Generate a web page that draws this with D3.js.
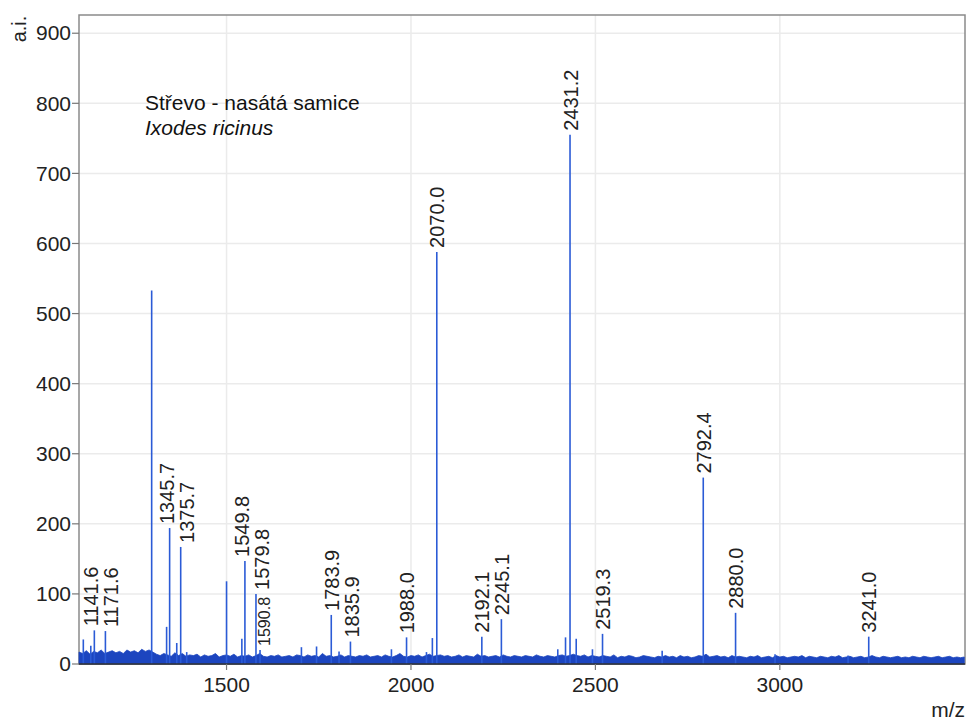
<!DOCTYPE html>
<html>
<head>
<meta charset="utf-8">
<script src="https://cdn.jsdelivr.net/npm/d3@7/dist/d3.min.js"></script>
<style>
  html, body { margin: 0; padding: 0; background: #ffffff; }
  svg { display: block; font-family: "Liberation Sans", Arial, sans-serif; }
</style>
</head>
<body>
<svg id="chart" width="966" height="720"></svg>
<script>
// Axis ticks
const mzTicks = [1500, 2000, 2500, 3000];
const aiTicks = [0, 100, 200, 300, 400, 500, 600, 700, 800, 900];

// Annotated peaks (m/z, intensity in a.i.)
const peakMz  = [1141.6, 1171.6, 1345.7, 1375.7, 1549.8, 1579.8, 1590.8, 1783.9, 1835.9,
                 1988.0, 2070.0, 2192.1, 2245.1, 2431.2, 2519.3, 2792.4, 2880.0, 3241.0];
const peakInt = [48, 47, 194, 167, 147, 100, 20, 70, 32,
                 38, 588, 39, 64, 755, 43, 266, 73, 39];

// Unannotated peaks
const minorMz  = [1111.7, 1132, 1297, 1337.5, 1365, 1392, 1500, 1541.5, 1703, 1744, 1805,
                  1947, 2042, 2058, 2398, 2419, 2448, 2492, 2681, 2987, 3185];
const minorInt = [35, 26, 533, 53, 30, 17, 118, 36, 24, 25, 18,
                  21, 17, 37, 21, 38, 36, 21, 19, 14, 12];

// Baseline noise, sampled every 10 m/z from 1100 to 3500
const noiseStart = 1100, noiseStep = 10;
const noise = [
  17, 15, 19, 14, 18, 16, 20, 15, 17, 19, 16, 18, 15, 20, 17, 19, 16, 21, 18, 20,
  17, 14, 12, 15, 13, 11, 16, 12, 15, 11, 13, 12, 14, 10, 13, 11, 12, 15, 10, 12,
  13, 11, 14, 10, 12, 11, 13, 10, 12, 15, 11, 10, 12, 11, 13, 10, 11, 12, 10, 13,
  12, 10, 13, 11, 12, 10, 15, 11, 12, 10, 11, 13, 10, 12, 11, 10, 12, 11, 13, 10,
  11, 12, 10, 13, 11, 10, 12, 15, 11, 10, 12, 11, 13, 10, 12, 14, 11, 12, 13, 11,
  12, 10, 11, 13, 10, 12, 11, 10, 14, 11, 12, 10, 11, 12, 10, 13, 11, 10, 12, 11,
  10, 12, 11, 10, 13, 11, 10, 12, 11, 10, 12, 13, 11, 12, 14, 12, 11, 13, 10, 12,
  11, 10, 12, 11, 10, 13, 9, 11, 10, 12, 11, 9, 10, 12, 11, 10, 9, 11, 10, 12,
  10, 11, 9, 12, 10, 11, 9, 10, 12, 11, 14, 10, 11, 12, 10, 11, 9, 12, 10, 11,
  10, 9, 11, 10, 12, 9, 10, 11, 9, 12, 10, 11, 9, 10, 11, 10, 12, 9, 11, 10,
  9, 11, 10, 9, 11, 10, 12, 9, 10, 11, 9, 10, 11, 9, 10, 12, 10, 9, 11, 10,
  9, 10, 11, 9, 10, 9, 11, 10, 9, 11, 10, 9, 10, 11, 9, 10, 11, 9, 10, 9,
  10
];

const titleLines = ["Střevo - nasátá samice", "Ixodes ricinus"];

// Layout
const svg = d3.select("#chart");
const plot = { left: 79, right: 965, top: 15, bottom: 664 };
const x = d3.scaleLinear().domain([1100, 3502]).range([plot.left, plot.right]);
const y = d3.scaleLinear().domain([0, 926]).range([plot.bottom, plot.top]);
const stretch = 1.05;   // glyphs are drawn slightly widened
const fontSize = 20;

const peakColor = "#2b5bd6";
const noiseColor = "#1c45bf";

// Grid
const grid = svg.append("g");
grid.selectAll("line.h").data(aiTicks.filter(d => d > 0)).join("line")
  .attr("x1", plot.left).attr("x2", plot.right)
  .attr("y1", d => y(d)).attr("y2", d => y(d))
  .attr("stroke", "#ebebeb").attr("stroke-width", 1.5);
grid.selectAll("line.v").data(mzTicks).join("line")
  .attr("y1", plot.top).attr("y2", plot.bottom)
  .attr("x1", d => x(d)).attr("x2", d => x(d))
  .attr("stroke", "#ebebeb").attr("stroke-width", 1.5);

// Frame
svg.append("rect")
  .attr("x", plot.left).attr("y", plot.top)
  .attr("width", plot.right - plot.left).attr("height", plot.bottom - plot.top)
  .attr("fill", "none").attr("stroke", "#8a8a8a").attr("stroke-width", 1.5);

// Noise band
const noisePts = noise.map((v, i) => [noiseStart + i * noiseStep, v]);
const area = d3.area().x(d => x(d[0])).y0(y(0)).y1(d => y(d[1]));
svg.append("path").datum(noisePts)
  .attr("d", area).attr("fill", noiseColor)
  .attr("stroke", noiseColor).attr("stroke-width", 0.8);

// Peaks
const allPeaks = minorMz.map((m, i) => ({ mz: m, v: minorInt[i] }))
  .concat(peakMz.map((m, i) => ({ mz: m, v: peakInt[i] })));
svg.append("g").selectAll("line").data(allPeaks).join("line")
  .attr("x1", d => x(d.mz)).attr("x2", d => x(d.mz))
  .attr("y1", y(0)).attr("y2", d => y(d.v))
  .attr("stroke", peakColor).attr("stroke-width", 1.6);

// Bottom axis line
svg.append("line")
  .attr("x1", plot.left).attr("x2", plot.right)
  .attr("y1", plot.bottom).attr("y2", plot.bottom)
  .attr("stroke", "#333").attr("stroke-width", 1.5);

// Text helper: widened glyphs, optional rotation
function stretchedText(sel, tx, ty, rot) {
  return sel.attr("transform", `translate(${tx},${ty}) scale(${stretch},1)` + (rot ? ` rotate(${rot})` : ""));
}

// Y axis
const yAxis = svg.append("g");
yAxis.selectAll("line").data(aiTicks).join("line")
  .attr("x1", plot.left - 7).attr("x2", plot.left)
  .attr("y1", d => y(d)).attr("y2", d => y(d))
  .attr("stroke", "#777").attr("stroke-width", 1.2);
yAxis.selectAll("text").data(aiTicks).join("text")
  .each(function (d) { stretchedText(d3.select(this), plot.left - 8, y(d), 0); })
  .attr("text-anchor", "end").attr("dy", "0.36em")
  .attr("font-size", fontSize).attr("fill", "#222")
  .text(d => d);

// X axis
const xAxis = svg.append("g");
xAxis.selectAll("line").data(mzTicks).join("line")
  .attr("x1", d => x(d)).attr("x2", d => x(d))
  .attr("y1", plot.bottom).attr("y2", plot.bottom + 6)
  .attr("stroke", "#777").attr("stroke-width", 1.2);
xAxis.selectAll("text").data(mzTicks).join("text")
  .each(function (d) { stretchedText(d3.select(this), x(d), plot.bottom + 28, 0); })
  .attr("text-anchor", "middle")
  .attr("font-size", fontSize).attr("fill", "#222")
  .text(d => d);

// Axis titles
stretchedText(svg.append("text"), 26, 29, -90)
  .attr("text-anchor", "middle")
  .attr("font-size", fontSize).attr("fill", "#222").text("a.i.");
stretchedText(svg.append("text"), 965, 717, 0)
  .attr("text-anchor", "end")
  .attr("font-size", fontSize).attr("fill", "#222").text("m/z");

// Sample description
titleLines.forEach((t, i) => {
  stretchedText(svg.append("text"), 145, 110 + i * 25, 0)
    .attr("font-size", fontSize)
    .attr("font-style", i === 1 ? "italic" : "normal")
    .attr("fill", "#111").text(t);
});

// Peak labels: rotated, set just above each peak. Neighbouring labels that
// would collide are either spread apart, or, when the lower one nearly fits
// beneath its neighbour, shrunk to fit.
const gap = 4, sep = 20, clearance = 7;
const labelLayer = svg.append("g");
const labels = peakMz.map((m, i) => {
  const txt = m.toFixed(1);
  const bottom = y(peakInt[i]) - gap;
  const probe = labelLayer.append("text").attr("font-size", fontSize).text(txt);
  const len = probe.node().getComputedTextLength();
  probe.remove();
  return { txt, px: x(m), bottom, top: bottom - len, len, size: fontSize };
}).sort((a, b) => a.px - b.px);
labels.forEach((l, i) => {
  if (i === 0) return;
  const p = labels[i - 1];
  const need = p.px + sep - l.px;
  const overlap = l.top < p.bottom && p.top < l.bottom;
  if (!overlap || need <= 0) return;
  const room = l.bottom - p.bottom - clearance;
  if (room > 0.7 * l.len) {
    l.size = fontSize * room / l.len;
    l.top = l.bottom - room;
    l.px = Math.max(l.px, p.px + 3);
  } else {
    p.px -= need * 0.4;
    l.px += need * 0.6;
  }
});
labelLayer.selectAll("text").data(labels).join("text")
  .each(function (d) { stretchedText(d3.select(this), d.px, d.bottom, -90); })
  .attr("dy", "0.36em")
  .attr("font-size", d => d.size).attr("fill", "#222")
  .text(d => d.txt);
</script>
</body>
</html>
